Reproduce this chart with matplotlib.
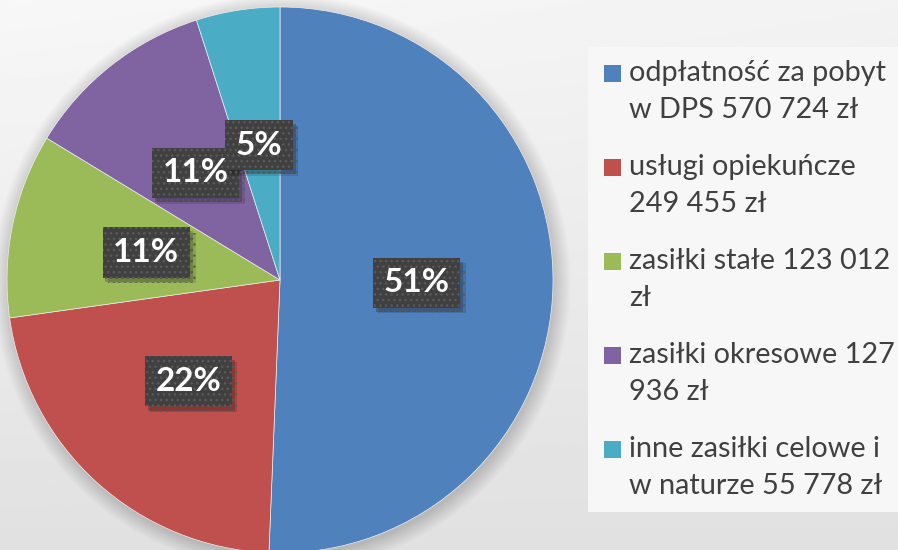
import numpy as np
import matplotlib
matplotlib.use("Agg")
import matplotlib.pyplot as plt
from matplotlib.patches import Circle, Rectangle
import matplotlib.patheffects as pe

# wydatki pomocy społecznej (zł)
legend_lines = [
    ["odpłatność za pobyt", "w DPS 570 724 zł"],
    ["usługi opiekuńcze", "249 455 zł"],
    ["zasiłki stałe 123 012", "zł"],
    ["zasiłki okresowe 127", "936 zł"],
    ["inne zasiłki celowe i", "w naturze 55 778 zł"],
]
values = [570724, 249455, 123012, 127936, 55778]
colors = ["#4f81bd", "#c0504d", "#9bbb59", "#8064a2", "#4bacc6"]

W, H = 898, 550
fig = plt.figure(figsize=(W / 100, H / 100), dpi=100)

# tło z delikatnym gradientem
bg = fig.add_axes([0, 0, 1, 1])
bg.set_axis_off()
yy, xx = np.mgrid[0:1:200j, 0:1:300j]
shade = 0.95 - 0.07 * yy + 0.02 * (1 - xx) * (1 - yy)
bg.imshow(shade, cmap="gray", vmin=0, vmax=1, extent=[0, 1, 0, 1], aspect="auto")
bg.set_xlim(0, 1)
bg.set_ylim(0, 1)

ax = fig.add_axes([0, 0, 1, 1])
ax.set_axis_off()

cx, cy, R = 280, H - 280, 273

# miękki cień pod wykresem
for i in range(14):
    ax.add_patch(Circle((cx + 2, cy - 3), R + i * 1.2, color="black",
                        alpha=0.012, lw=0, zorder=1))

wedges, texts, autotexts = ax.pie(
    values, colors=colors, startangle=90, counterclock=False,
    center=(cx, cy), radius=R, autopct="%.0f%%", pctdistance=0.5,
    wedgeprops=dict(edgecolor="#eeeeee", linewidth=0.5),
    textprops=dict(color="white", fontsize=24, fontweight="bold",
                   family="Lato"),
    frame=True,
)
ax.set_xlim(0, W)
ax.set_ylim(0, H)
ax.set_axis_off()
for w in wedges:
    w.set_zorder(2)

for t in autotexts:
    t.set_zorder(5)
    t.set_bbox(dict(boxstyle="square,pad=0.32", fc="#404040", ec="#5a5a5a",
                    lw=0, hatch="..."))
    t.get_bbox_patch().set_path_effects([
        pe.SimplePatchShadow(offset=(4, -4), shadow_rgbFace="black", alpha=0.12),
        pe.SimplePatchShadow(offset=(2, -3), shadow_rgbFace="black", alpha=0.2),
        pe.Normal(),
    ])

# panel legendy
ax.add_patch(Rectangle((588, H - 512), W - 588, 512 - 47, fc="#f7f7f7",
                       lw=0, zorder=1))

row0, line_gap, row_gap = 73, 37, 94
for i, (lines, c) in enumerate(zip(legend_lines, colors)):
    y0 = row0 + i * row_gap
    ax.add_patch(Rectangle((604, H - y0 - 9), 17, 17, fc=c, lw=0, zorder=3))
    for j, line in enumerate(lines):
        ax.text(629, H - (y0 + j * line_gap), line, fontsize=20.8,
                family="Lato", color="#404040", va="center", ha="left",
                zorder=3)

fig.savefig("out.png", dpi=100)
